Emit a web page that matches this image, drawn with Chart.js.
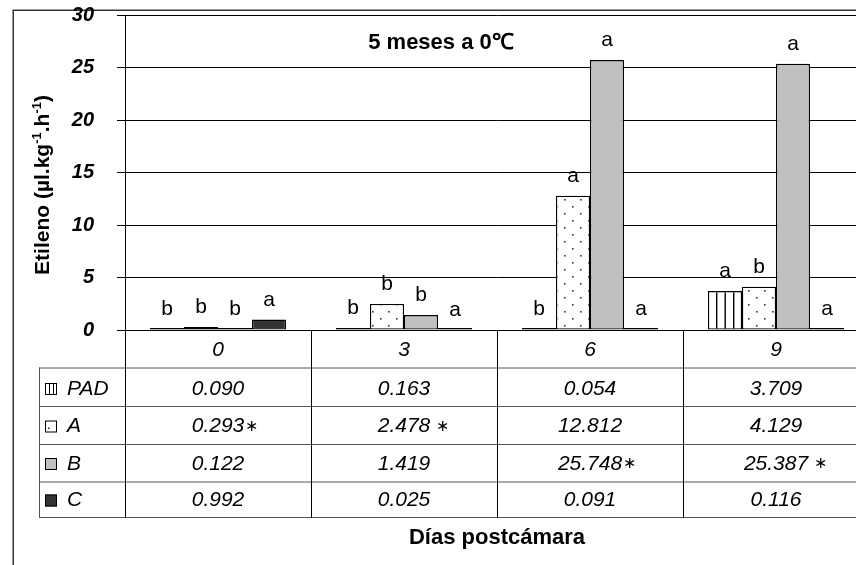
<!DOCTYPE html>
<html><head><meta charset="utf-8">
<script src="https://cdn.jsdelivr.net/npm/chart.js@4.4.0/dist/chart.umd.min.js"></script>
<style>html,body{margin:0;padding:0;background:#fff;overflow:hidden;width:856px;height:565px}
canvas{display:block}</style></head>
<body><canvas id="c" width="875" height="565" style="width:875px;height:565px"></canvas>
<script>
// ---- data ----
const categories = ['0', '3', '6', '9'];
const seriesNames = ['PAD', 'A', 'B', 'C'];
const padValues = [0.090, 0.163, 0.054, 3.709];
const aValues = [0.293, 2.478, 12.812, 4.129];
const bValues = [0.122, 1.419, 25.748, 25.387];
const cValues = [0.992, 0.025, 0.091, 0.116];
const padLetters = ['b', 'b', 'b', 'a'];
const aLetters = ['b', 'b', 'a', 'b'];
const bLetters = ['b', 'b', 'a', 'a'];
const cLetters = ['a', 'a', 'a', 'a'];
const padMarks = ['', '', '', ''];
const aMarks = ['\u2217', ' \u2217', '', ''];
const bMarks = ['', '', '\u2217', ' \u2217'];
const cMarks = ['', '', '', ''];
const yMin = 0, yMax = 30, yStep = 5;
const chartTitle = '5 meses a 0\u2103';
const xTitle = 'Días postcámara';
const yTitleParts = [['Etileno (µl.kg', false], ['-1', true], ['.h', false], ['-1', true], [')', false]];

const FONT = "'Liberation Sans', Arial, sans-serif";
const canvas = document.getElementById('c');
const mainCtx = canvas.getContext('2d');

function makePattern(w, h, draw) {
  const pc = document.createElement('canvas');
  pc.width = w; pc.height = h;
  const x = pc.getContext('2d');
  x.fillStyle = '#fff'; x.fillRect(0, 0, w, h);
  draw(x);
  return mainCtx.createPattern(pc, 'repeat');
}
const stripes = makePattern(17, 8, x => {
  x.fillStyle = '#000';
  x.fillRect(2, 0, 1.4, 8); x.fillRect(10.5, 0, 1.4, 8);
});
const dots = makePattern(16, 14, x => {
  x.fillStyle = '#333';
  x.fillRect(4, 3, 1.6, 1.6); x.fillRect(12, 10, 1.6, 1.6);
});
const fills = [stripes, dots, '#c0c0c0', '#333333'];
const allValues = [padValues, aValues, bValues, cValues];
const allLetters = [padLetters, aLetters, bLetters, cLetters];
const allMarks = [padMarks, aMarks, bMarks, cMarks];

// table geometry (layout only)
const rowLines = [367.5, 406, 444, 481.5, 517];
const rowCenters = [389, 426.5, 464, 500.5];
const tableLeft = 39;

function drawIcon(ctx, k, x, y, s) {
  ctx.save();
  ctx.fillStyle = k === 2 ? '#c0c0c0' : (k === 3 ? '#333333' : '#fff');
  ctx.fillRect(x, y, s, s);
  ctx.strokeStyle = '#000'; ctx.lineWidth = 1;
  ctx.strokeRect(x + 0.5, y + 0.5, s - 1, s - 1);
  if (k === 0) {
    ctx.beginPath();
    ctx.moveTo(x + s / 3 + 0.5, y); ctx.lineTo(x + s / 3 + 0.5, y + s);
    ctx.moveTo(x + 2 * s / 3 + 0.5, y); ctx.lineTo(x + 2 * s / 3 + 0.5, y + s);
    ctx.stroke();
  } else if (k === 1) {
    ctx.fillStyle = '#333';
    ctx.fillRect(x + 3, y + s - 5, 1.6, 1.6);
  }
  ctx.restore();
}

const decor = {
  id: 'decor',
  beforeDraw(chart) {
    const ctx = chart.ctx;
    ctx.save();
    ctx.fillStyle = '#fff';
    ctx.fillRect(0, 0, chart.width, chart.height);
    ctx.strokeStyle = '#333'; ctx.lineWidth = 1.5;
    ctx.beginPath();
    ctx.moveTo(13.25, chart.height); ctx.lineTo(13.25, 10.25); ctx.lineTo(chart.width, 10.25);
    ctx.stroke();
    ctx.restore();
  },
  afterDatasetsDraw(chart) {
    const ctx = chart.ctx;
    ctx.save();
    ctx.fillStyle = '#000';
    ctx.font = '21px ' + FONT;
    ctx.textAlign = 'center'; ctx.textBaseline = 'alphabetic';
    chart.data.datasets.forEach((ds, i) => {
      const meta = chart.getDatasetMeta(i);
      meta.data.forEach((bar, j) => {
        const yv = chart.scales.y.getPixelForValue(allValues[i][j]);
        ctx.fillText(allLetters[i][j], bar.x, yv - 14);
      });
    });
    // chart title
    ctx.font = 'bold 22px ' + FONT;
    ctx.fillText(chartTitle, 441, 49);
    ctx.restore();
  },
  afterDraw(chart) {
    const ctx = chart.ctx;
    const xs = chart.scales.x;
    const area = chart.chartArea;
    const n = categories.length;
    const cw = (area.right - area.left) / n;
    ctx.save();
    // horizontal table lines
    ctx.strokeStyle = '#555'; ctx.lineWidth = 1;
    ctx.beginPath();
    rowLines.forEach(y => { ctx.moveTo(tableLeft, y + 0.5); ctx.lineTo(chart.width, y + 0.5); });
    ctx.moveTo(tableLeft + 0.5, rowLines[0]); ctx.lineTo(tableLeft + 0.5, rowLines[rowLines.length - 1] + 1);
    ctx.stroke();
    // vertical table lines
    ctx.strokeStyle = '#000';
    ctx.beginPath();
    for (let k = 0; k <= n; k++) {
      const x = Math.round(area.left + k * cw) + 0.5;
      ctx.moveTo(x, area.bottom); ctx.lineTo(x, rowLines[rowLines.length - 1] + 1);
    }
    ctx.stroke();
    // rows
    ctx.fillStyle = '#000';
    ctx.textBaseline = 'middle';
    for (let i = 0; i < seriesNames.length; i++) {
      const cy = rowCenters[i];
      drawIcon(ctx, i, 45, cy - 6, 12);
      ctx.font = 'italic 21px ' + FONT;
      ctx.textAlign = 'left';
      ctx.fillText(seriesNames[i], 67, cy);
      for (let j = 0; j < n; j++) {
        const cx = xs.getPixelForValue(j);
        const txt = allValues[i][j].toFixed(3);
        ctx.font = 'italic 21px ' + FONT;
        ctx.textAlign = 'center';
        ctx.fillText(txt, cx, cy);
        if (allMarks[i][j]) {
          const w = ctx.measureText(txt).width;
          ctx.textAlign = 'left';
          ctx.font = '16px ' + FONT;
          ctx.fillText(allMarks[i][j], cx + w / 2 + 1, cy);
        }
      }
    }
    // y title with superscripts
    ctx.translate(41, 185);
    ctx.rotate(-Math.PI / 2);
    const big = 'bold 21px ' + FONT, small = 'bold 13px ' + FONT;
    let total = 0;
    yTitleParts.forEach(([t, sup]) => { ctx.font = sup ? small : big; total += ctx.measureText(t).width; });
    let x = -total / 2;
    ctx.textAlign = 'left'; ctx.textBaseline = 'alphabetic';
    yTitleParts.forEach(([t, sup]) => {
      ctx.font = sup ? small : big;
      ctx.fillText(t, x, sup ? 0 : 8);
      x += ctx.measureText(t).width;
    });
    ctx.restore();
  }
};

new Chart(canvas, {
  type: 'bar',
  data: {
    labels: categories,
    datasets: seriesNames.map((name, i) => ({
      label: name,
      data: allValues[i],
      backgroundColor: fills[i],
      borderColor: '#000',
      borderWidth: 1.3,
      borderSkipped: false,
      minBarLength: 2,
      categoryPercentage: 0.731,
      barPercentage: 1
    }))
  },
  options: {
    responsive: false,
    animation: false,
    events: [],
    layout: { padding: { top: 15.5, right: 6, left: 0, bottom: 13.8 } },
    plugins: { legend: { display: false }, tooltip: { enabled: false }, title: { display: false } },
    scales: {
      x: {
        grid: { display: false, drawTicks: false },
        border: { display: true, color: '#000', width: 1 },
        ticks: { color: '#000', font: { family: FONT, size: 21, style: 'italic' }, padding: 8 },
        title: { display: true, text: xTitle, color: '#000', font: { family: FONT, size: 22, weight: 'bold' }, padding: { top: 153.6, bottom: 0 } }
      },
      y: {
        min: yMin, max: yMax,
        afterFit(scale) { scale.width = 125; scale.paddingTop = 0; scale.paddingBottom = 0; },
        grid: { color: '#000', lineWidth: 1, tickLength: 8, drawTicks: true },
        border: { display: true, color: '#000', width: 1 },
        ticks: { stepSize: yStep, color: '#000', padding: 23, font: { family: FONT, size: 20, style: 'italic', weight: 'bold' } }
      }
    }
  },
  plugins: [decor]
});
</script>
</body></html>
